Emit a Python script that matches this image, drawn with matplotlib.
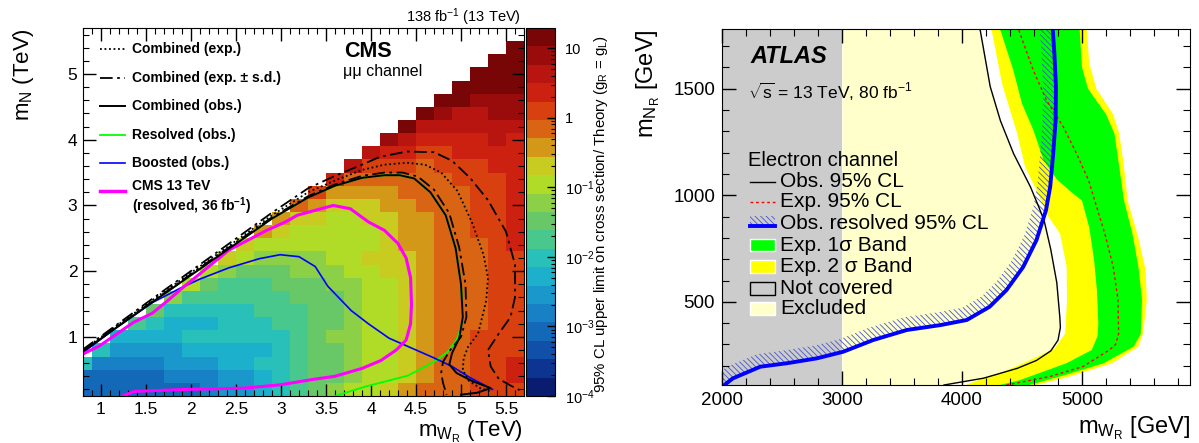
"""
W_R / heavy neutrino exclusion: CMS mumu map (left) and ATLAS electron channel (right)
"""

import matplotlib
matplotlib.use('Agg')
import matplotlib.pyplot as plt
import numpy as np
from matplotlib.colors import ListedColormap, LogNorm
from matplotlib.patches import Rectangle, Polygon
from matplotlib.ticker import MultipleLocator, FormatStrFormatter, LogLocator, NullFormatter

plt.rcParams['font.family'] = ['Liberation Sans', 'DejaVu Sans']
plt.rcParams['mathtext.fontset'] = 'custom'
plt.rcParams['mathtext.rm'] = 'Liberation Sans'
plt.rcParams['mathtext.it'] = 'Liberation Sans:italic'
plt.rcParams['mathtext.bf'] = 'Liberation Sans:bold'
plt.rcParams['hatch.linewidth'] = 0.6

# ---------------- CMS (left) ----------------
# colour level of every 0.2 x 0.2 TeV cell (0 = 1e-4 ... j = ~20), lowest mN row first
HEAT_ROWS = [
    "33333334556789abbcdeeefff",
    "333334445567899abbcdeeffg",
    "744445556677899abbcdeeffg",
    ".75555666667899abbcdeefff",
    "..666677777789aabbcdeefff",
    "...876667778899abbcdeeeff",
    "....97777788899abbcdeeeff",
    ".....a888888999abbcdeeeff",
    "......b9888999aabbcdeeeff",
    ".......ba999aaabbccdeeeff",
    "........cbaaaabbcccdeeeff",
    ".........cbbbbbbbcddeeefg",
    "..........dcbbbbbcddeeffg",
    "...........dccbbccddeeffg",
    "............edcccddeeeffg",
    ".............fddddeeeeffg",
    "..............geeeeeefffg",
    "...............hfffefffgg",
    "................hggffgggg",
    ".................ihgggghg",
    "..................jhhhhhh",
    "...................jihhii",
    "....................jjiii",
    ".....................jjjj",
    "......................jjj",
    ".......................jj",
    "........................j",
    ".........................",
]
LEVEL_CHARS = '0123456789abcdefghij'
PALETTE = ['#0a1c70', '#0c3490', '#1050a8', '#1468b8', '#1880c4',
           '#1a98cc', '#1cb0cc', '#28c0b8', '#48c88c', '#68c868',
           '#8cd048', '#b0dc28', '#c8cc20', '#d49818', '#d86414',
           '#d84010', '#cc2010', '#b81410', '#9a0c0c', '#780606']
CB_MIN, CB_MAX = 1e-4, 19.5

CMS_OBS_X = [0.80, 1.50, 2.20, 2.90, 3.30, 3.60, 3.90, 4.15, 4.32, 4.48, 4.66, 4.83,
             4.94, 5.00, 5.02, 4.98, 4.90, 4.87, 4.95, 5.12, 5.33, 5.18, 5.00]
CMS_OBS_Y = [0.78, 1.46, 2.13, 2.80, 3.12, 3.30, 3.42, 3.46, 3.46, 3.41, 3.20, 2.85,
             2.35, 1.80, 1.30, 0.98, 0.75, 0.58, 0.45, 0.33, 0.22, 0.15, 0.12]
CMS_EXP_X = [0.80, 1.50, 2.20, 2.90, 3.30, 3.60, 3.90, 4.15, 4.40, 4.60, 4.78, 4.96,
             5.12, 5.25, 5.30, 5.28, 5.19, 5.08, 5.03, 5.02, 5.08, 5.21, 5.34]
CMS_EXP_Y = [0.80, 1.49, 2.17, 2.85, 3.20, 3.38, 3.54, 3.62, 3.65, 3.62, 3.50, 3.22,
             2.75, 2.25, 1.90, 1.55, 1.05, 0.85, 0.68, 0.50, 0.34, 0.22, 0.17]
CMS_UP_X = [0.80, 1.50, 2.20, 2.90, 3.30, 3.60, 3.90, 4.10, 4.40, 4.70, 4.90, 5.10,
            5.30, 5.50, 5.60, 5.60, 5.55, 5.42, 5.30, 5.33, 5.42, 5.55, 5.65]
CMS_UP_Y = [0.81, 1.51, 2.20, 2.89, 3.26, 3.45, 3.62, 3.74, 3.82, 3.81, 3.68, 3.42,
            3.08, 2.60, 2.10, 1.60, 1.30, 1.05, 0.80, 0.55, 0.36, 0.26, 0.19]
CMS_DN_X = [0.80, 1.50, 2.20, 2.90, 3.30, 3.60, 3.90, 4.15, 4.35, 4.52, 4.70, 4.87,
            4.98, 5.05, 5.06, 5.00, 4.88, 4.80, 4.78, 4.80, 4.84]
CMS_DN_Y = [0.79, 1.47, 2.15, 2.82, 3.14, 3.32, 3.45, 3.50, 3.50, 3.44, 3.24, 2.88,
            2.36, 1.80, 1.30, 1.00, 0.80, 0.62, 0.45, 0.30, 0.12]
RES_X = [3.60, 3.93, 4.41, 4.70, 4.85, 4.95, 5.00, 5.02, 5.00, 4.94, 4.83, 4.66,
         4.48, 4.32, 4.15, 3.90, 3.60, 3.30, 2.90, 2.20, 1.50, 0.80]
RES_Y = [0.10, 0.24, 0.41, 0.62, 0.77, 0.95, 1.15, 1.30, 1.80, 2.35, 2.85, 3.20,
         3.41, 3.46, 3.46, 3.42, 3.30, 3.12, 2.80, 2.13, 1.46, 0.78]
BOOST_X = [0.80, 1.15, 1.57, 1.88, 2.10, 2.42, 2.76, 2.99, 3.20, 3.38, 3.52, 3.78,
           3.97, 4.20, 4.40, 4.70, 4.90, 5.10, 5.35]
BOOST_Y = [0.76, 1.12, 1.52, 1.74, 1.88, 2.05, 2.19, 2.25, 2.22, 2.07, 1.77, 1.40,
           1.20, 0.98, 0.86, 0.68, 0.55, 0.38, 0.20]
OLD_X = [0.80, 0.98, 1.15, 1.36, 1.57, 1.74, 1.91, 2.17, 2.42, 2.63, 2.84, 3.05,
         3.18, 3.39, 3.58, 3.77, 3.97, 4.15, 4.30, 4.39, 4.44, 4.45, 4.44, 4.39,
         4.28, 4.11, 3.90, 3.60, 3.39, 2.99, 2.59, 1.94, 1.37, 1.24]
OLD_Y = [0.74, 0.86, 1.02, 1.22, 1.36, 1.55, 1.75, 2.04, 2.32, 2.47, 2.62, 2.75,
         2.85, 2.93, 3.00, 2.95, 2.75, 2.62, 2.42, 2.20, 1.90, 1.50, 1.20, 0.95,
         0.80, 0.64, 0.52, 0.40, 0.36, 0.27, 0.22, 0.20, 0.17, 0.10]

# ---------------- ATLAS (right) ----------------
AT_OBS_X = [3850, 4180, 4460, 4620, 4740, 4800, 4820, 4815, 4790, 4740, 4685, 4640,
            4570, 4430, 4320, 4235, 4150]
AT_OBS_Y = [110, 142, 188, 225, 270, 320, 380, 430, 590, 745, 880, 945,
            1040, 1195, 1350, 1510, 1780]
AT_EXP_X = [4370, 4735, 5010, 5230, 5280, 5305, 5300, 5260, 5190, 5125, 5055, 4955,
            4845, 4705, 4595, 4470]
AT_EXP_Y = [110, 150, 197, 275, 300, 350, 510, 665, 820, 940, 1070, 1195,
            1320, 1445, 1585, 1780]
S1_LO_X = [4317, 4483, 4870, 5081, 5130, 5136, 5125, 5100, 5060, 5000, 4900, 4790,
           4680, 4595, 4500, 4428, 4317]
S1_LO_Y = [110, 133, 212, 274, 340, 400, 550, 700, 850, 975, 1020, 1075,
           1165, 1305, 1430, 1586, 1780]
S1_HI_X = [4560, 4860, 5180, 5430, 5490, 5500, 5470, 5420, 5350, 5310, 5270, 5200,
           5050, 5000, 4980]
S1_HI_Y = [110, 157, 212, 290, 350, 510, 665, 820, 975, 1135, 1290, 1380,
           1500, 1600, 1780]
S2_LO_X = [4030, 4172, 4317, 4500, 4770, 4860, 4875, 4872, 4817, 4720, 4640, 4525,
           4460, 4335, 4245]
S2_LO_Y = [110, 140, 165, 210, 280, 352, 510, 665, 820, 900, 1000, 1135,
           1290, 1520, 1780]
S2_HI_X = [4620, 4900, 5250, 5470, 5510, 5540, 5530, 5470, 5380, 5350, 5310, 5260,
           5120, 5060, 5040]
S2_HI_Y = [110, 150, 212, 290, 355, 510, 650, 800, 975, 1135, 1290, 1380,
           1500, 1620, 1780]
RESOLVED_X = [2020, 2090, 2320, 2540, 2790, 3010, 3260, 3540, 3820, 4040, 4230, 4370,
              4510, 4620, 4700, 4735, 4760, 4780, 4783, 4770, 4756]
RESOLVED_Y = [110, 141, 196, 212, 235, 266, 321, 368, 391, 415, 477, 555,
              664, 789, 930, 1040, 1196, 1352, 1508, 1664, 1780]

W, H = 1199.0, 443.0
HATCH = '\\' * 6


def px_box(x0, y0, x1, y1):
    return [x0 / W, 1 - y1 / H, (x1 - x0) / W, (y1 - y0) / H]


def side_band(ax, xs, ys, width_px):
    """Polygon between a curve and its copy shifted width_px to its upper-left side."""
    pts = ax.transData.transform(np.column_stack([xs, ys]))
    d = np.gradient(pts, axis=0)
    n = np.column_stack([-d[:, 1], d[:, 0]])
    n /= np.hypot(n[:, 0], n[:, 1])[:, None]
    shifted = ax.transData.inverted().transform(pts + n * width_px)
    return np.vstack([np.column_stack([xs, ys]), shifted[::-1]])


fig = plt.figure(figsize=(11.99, 4.43), dpi=100)
axl = fig.add_axes(px_box(83, 28, 524, 396))
cax = fig.add_axes(px_box(526, 28, 555, 396))
axr = fig.add_axes(px_box(722, 29, 1190, 385))

# ---- left heat map ----
step = (np.log10(CB_MAX) - np.log10(CB_MIN)) / len(PALETTE)
grid = np.full((len(HEAT_ROWS), 25), np.nan)
for j, row in enumerate(HEAT_ROWS):
    assert len(row) == 25, (j, row)
    for i, ch in enumerate(row):
        if ch != '.':
            grid[j, i] = 10 ** (np.log10(CB_MIN) + (LEVEL_CHARS.index(ch) + 0.5) * step)

mesh = axl.pcolormesh(np.linspace(0.7, 5.7, 26), np.linspace(0.1, 5.7, 29),
                      np.ma.masked_invalid(grid), cmap=ListedColormap(PALETTE),
                      norm=LogNorm(CB_MIN, CB_MAX), zorder=1)

dashdot = (0, (7, 2.5, 1.5, 2.5))
axl.plot(RES_X, RES_Y, color='#00ff00', lw=1.3, zorder=2)
axl.plot(BOOST_X, BOOST_Y, color='#0000ff', lw=1.2, zorder=2)
axl.plot(OLD_X, OLD_Y, color='#ff00ff', lw=2.2, zorder=2)
axl.plot(CMS_EXP_X, CMS_EXP_Y, color='k', lw=1.3, ls=(0, (1, 1.5)), zorder=3)
axl.plot(CMS_UP_X, CMS_UP_Y, color='k', lw=1.3, ls=dashdot, zorder=3)
axl.plot(CMS_DN_X, CMS_DN_Y, color='k', lw=1.3, ls=dashdot, zorder=3)
axl.plot(CMS_OBS_X, CMS_OBS_Y, color='k', lw=1.4, zorder=3)

axl.set_xlim(0.8, 5.7)
axl.set_ylim(0.1, 5.7)
axl.xaxis.set_major_locator(MultipleLocator(0.5))
axl.xaxis.set_minor_locator(MultipleLocator(0.1))
axl.yaxis.set_major_locator(MultipleLocator(1))
axl.yaxis.set_minor_locator(MultipleLocator(0.2))
axl.xaxis.set_major_formatter(FormatStrFormatter('%g'))
axl.yaxis.set_major_formatter(FormatStrFormatter('%g'))
axl.tick_params(which='both', direction='in', top=True, right=True, labelsize=12.5)
axl.tick_params(which='major', length=9, width=1, pad=4)
axl.tick_params(which='minor', length=4.5, width=0.8)

# legend drawn by hand, ROOT style
leg = [
    (0.943, dict(ls=(0, (1, 1.5)), color='k', lw=1.3), 'Combined (exp.)'),
    (0.864, dict(ls=dashdot, color='k', lw=1.3), 'Combined (exp. ± s.d.)'),
    (0.789, dict(color='k', lw=1.4), 'Combined (obs.)'),
    (0.710, dict(color='#00ff00', lw=1.3), 'Resolved (obs.)'),
    (0.633, dict(color='#0000ff', lw=1.2), 'Boosted (obs.)'),
    (0.556, dict(color='#ff00ff', lw=2.5), None),
]
for yy, style, label in leg:
    axl.plot([0.039, 0.096], [yy, yy], transform=axl.transAxes, **style)
    if label:
        axl.text(0.111, yy, label, transform=axl.transAxes, fontsize=10,
                 fontweight='bold', va='center')
axl.text(0.111, 0.570, 'CMS 13 TeV', transform=axl.transAxes, fontsize=10,
         fontweight='bold', va='center')
axl.text(0.111, 0.515, r'(resolved, 36 fb$^{\mathbf{-1}}$)', transform=axl.transAxes,
         fontsize=10, fontweight='bold', va='center')
axl.text(0.592, 0.936, 'CMS', transform=axl.transAxes, fontsize=15.5,
         fontweight='bold', va='center')
axl.text(0.590, 0.883, 'μμ channel', transform=axl.transAxes, fontsize=11.5, va='center')

fig.text(521 / W, 1 - 16.7 / H, r'138 fb$^{-1}$ (13 TeV)', ha='right', va='center',
         fontsize=10.5)
fig.text(23 / W, 1 - 28 / H, r'm$_{\mathrm{N}}$ (TeV)', rotation=90, ha='center',
         va='top', fontsize=16)
fig.text(523 / W, 1 - 432 / H, r'm$_{\mathrm{W}_{\mathrm{R}}}$ (TeV)', ha='right',
         va='center', fontsize=16)

# colour bar
cb = fig.colorbar(mesh, cax=cax)
cb.outline.set_linewidth(0.8)
cb.set_ticks([1e-4, 1e-3, 1e-2, 1e-1, 1, 10])
cb.set_ticklabels(['10$^{-4}$', '10$^{-3}$', '10$^{-2}$', '10$^{-1}$', '1', '10'])
cax.yaxis.set_minor_locator(LogLocator(base=10, subs=np.arange(2, 10)))
cax.yaxis.set_minor_formatter(NullFormatter())
cax.tick_params(which='both', direction='in', right=True, left=False, labelsize=10.5,
                pad=7)
cax.tick_params(which='major', length=6, width=1)
cax.tick_params(which='minor', length=3, width=0.8)
fig.text(601 / W, 1 - 214 / H,
         r'95% CL upper limit on cross section/ Theory (g$_{\mathrm{R}}$ = g$_{\mathrm{L}}$)',
         rotation=90, ha='center', va='center', fontsize=10.8)

# ---------------- right panel ----------------
axr.set_xlim(2000, 5900)
axr.set_ylim(110, 1780)
axr.axvspan(2000, 3000, color='#cccccc', lw=0, zorder=0.5)
axr.fill_betweenx(AT_OBS_Y, 3000, AT_OBS_X, color='#ffffcc', lw=0, zorder=0.6)
axr.fill(np.r_[S2_LO_X, S2_HI_X[::-1]], np.r_[S2_LO_Y, S2_HI_Y[::-1]],
         color='#ffff00', lw=0, zorder=0.8)
axr.fill(np.r_[S1_LO_X, S1_HI_X[::-1]], np.r_[S1_LO_Y, S1_HI_Y[::-1]],
         color='#00ff00', lw=0, zorder=0.9)
axr.add_patch(Polygon(side_band(axr, RESOLVED_X, RESOLVED_Y, 13), closed=True,
                      facecolor='none', edgecolor='#4455cc', hatch=HATCH, lw=0,
                      zorder=1.0))
axr.plot(AT_EXP_X, AT_EXP_Y, color='#ff0000', lw=1.0, ls=(0, (2, 2)), zorder=2)
axr.plot(AT_OBS_X, AT_OBS_Y, color='k', lw=1.0, zorder=2)
axr.plot(RESOLVED_X, RESOLVED_Y, color='#0000ff', lw=2.8, zorder=2.1)

axr.xaxis.set_major_locator(MultipleLocator(1000))
axr.xaxis.set_minor_locator(MultipleLocator(200))
axr.yaxis.set_major_locator(MultipleLocator(500))
axr.yaxis.set_minor_locator(MultipleLocator(100))
axr.tick_params(which='both', direction='in', top=True, right=True, labelsize=13.5)
axr.tick_params(which='major', length=10, width=1, pad=5)
axr.tick_params(which='minor', length=5, width=0.8)

axr.text(0.06, 0.923, 'ATLAS', transform=axr.transAxes, fontsize=17,
         fontweight='bold', fontstyle='italic', va='center')
axr.text(0.056, 0.824, r'$\sqrt{\mathrm{s}}$ = 13 TeV, 80 fb$^{-1}$',
         transform=axr.transAxes, fontsize=12.5, va='center')
axr.text(0.056, 0.632, 'Electron channel', transform=axr.transAxes, fontsize=14.5,
         va='center')

hx0, hw, hh, tx = 0.060, 0.053, 0.036, 0.124
rows = [0.571, 0.515, 0.454, 0.393, 0.332, 0.272, 0.215]
axr.plot([hx0, hx0 + hw], [rows[0]] * 2, transform=axr.transAxes, color='k', lw=1.0)
axr.plot([hx0, hx0 + hw], [rows[1]] * 2, transform=axr.transAxes, color='#ff0000',
         lw=1.0, ls=(0, (2, 2)))
axr.add_patch(Rectangle((hx0, rows[2] - 0.008), hw, 0.03, transform=axr.transAxes,
                        facecolor='none', edgecolor='#4455cc', hatch=HATCH, lw=0))
axr.plot([hx0, hx0 + hw], [rows[2] - 0.008] * 2, transform=axr.transAxes,
         color='#0000ff', lw=2.8)
axr.add_patch(Rectangle((hx0, rows[3] - hh / 2), hw, hh, transform=axr.transAxes,
                        facecolor='#00ff00', edgecolor='white', lw=1))
axr.add_patch(Rectangle((hx0, rows[4] - hh / 2), hw, hh, transform=axr.transAxes,
                        facecolor='#ffff00', edgecolor='white', lw=1))
axr.add_patch(Rectangle((hx0, rows[5] - hh / 2), hw, hh, transform=axr.transAxes,
                        facecolor='none', edgecolor='k', lw=1))
axr.add_patch(Rectangle((hx0, rows[6] - hh / 2), hw, hh, transform=axr.transAxes,
                        facecolor='#ffffcc', edgecolor='white', lw=1))
labels = ['Obs. 95% CL', 'Exp. 95% CL', 'Obs. resolved 95% CL', 'Exp. 1σ Band',
          'Exp. 2 σ Band', 'Not covered', 'Excluded']
for yy, lab in zip(rows, labels):
    axr.text(tx, yy, lab, transform=axr.transAxes, fontsize=15, va='center')

fig.text(648 / W, 1 - 29 / H, r'm$_{\mathrm{N}_{\mathrm{R}}}$ [GeV]', rotation=90,
         ha='center', va='top', fontsize=17)
fig.text(1190 / W, 1 - 428 / H, r'm$_{\mathrm{W}_{\mathrm{R}}}$ [GeV]', ha='right',
         va='center', fontsize=17)

fig.savefig('out.png', dpi=100)
